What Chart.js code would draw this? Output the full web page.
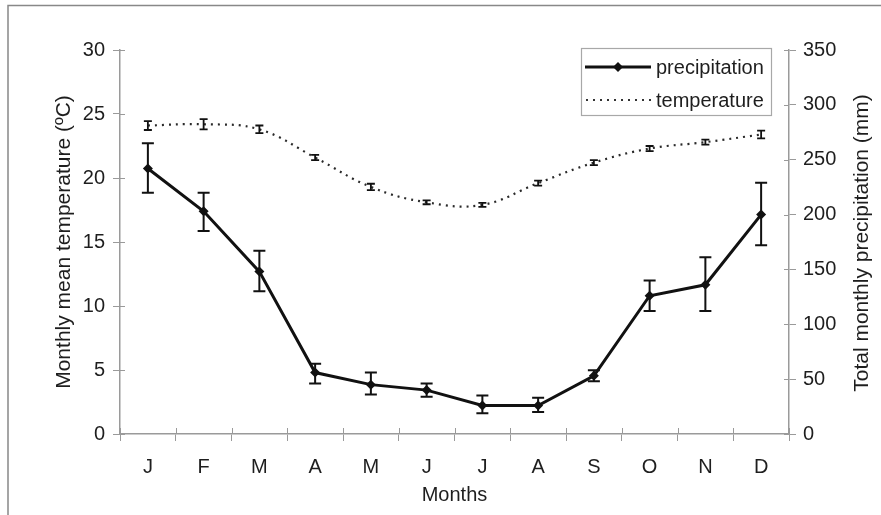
<!DOCTYPE html>
<html>
<head>
<meta charset="utf-8">
<script src="https://cdn.jsdelivr.net/npm/chart.js@4"></script>
<style>
  html, body { margin: 0; padding: 0; background: #fff; }
  #wrap { width: 881px; height: 515px; position: relative; }
</style>
</head>
<body>
<div id="wrap"><canvas id="c" width="881" height="515"></canvas></div>
<script>
// ---- data ----
const months = ['J', 'F', 'M', 'A', 'M', 'J', 'J', 'A', 'S', 'O', 'N', 'D'];
const precipitation = [242, 203, 148, 56, 45, 40, 26, 26, 53, 126, 136, 200];
const precipHigh    = [265, 220, 167, 64, 56, 46, 35, 33, 58, 140, 161, 229];
const precipLow     = [220, 185, 130, 46, 36, 34, 19, 20, 48, 112, 112, 172];
const temperature   = [24.1, 24.2, 23.8, 21.6, 19.3, 18.1, 17.9, 19.6, 21.2, 22.3, 22.8, 23.4];
const tempError     = [0.35, 0.4, 0.3, 0.2, 0.25, 0.15, 0.15, 0.2, 0.2, 0.2, 0.2, 0.3];
const tempTicks = [0, 5, 10, 15, 20, 25, 30];
const precipTicks = [0, 50, 100, 150, 200, 250, 300, 350];
const rightTitle = 'Total monthly precipitation (mm)';

const FONT = "'Liberation Sans', Arial, sans-serif";
const FS = 20;
const FS_V = 21;
const TXT = '#1e1e1e';
const AXIS = '#9a9a9a';

const tempHigh = temperature.map((v, i) => v + tempError[i]);
const tempLow = temperature.map((v, i) => v - tempError[i]);

const frame = {
  id: 'frame',
  beforeDraw(chart) {
    const ctx = chart.ctx;
    ctx.save();
    ctx.fillStyle = '#fff';
    ctx.fillRect(0, 0, chart.width, chart.height);
    ctx.strokeStyle = '#888';
    ctx.lineWidth = 1.5;
    ctx.beginPath();
    ctx.moveTo(8, chart.height);
    ctx.lineTo(8, 5.5);
    ctx.lineTo(chart.width, 5.5);
    ctx.stroke();
    ctx.restore();
  }
};

const innerTicks = {
  id: 'innerTicks',
  afterDraw(chart) {
    const ctx = chart.ctx;
    const ca = chart.chartArea;
    ctx.save();
    ctx.strokeStyle = AXIS;
    ctx.lineWidth = 1;
    ctx.beginPath();
    const x = chart.scales.x;
    for (let k = 0; k <= months.length; k++) {
      const px = Math.round(x.getPixelForValue(k - 0.5)) + 0.5;
      ctx.moveTo(px, ca.bottom);
      ctx.lineTo(px, ca.bottom - 6);
    }
    const yl = chart.scales.yT;
    tempTicks.forEach(v => {
      const py = Math.round(yl.getPixelForValue(v)) + 0.5;
      ctx.moveTo(ca.left, py);
      ctx.lineTo(ca.left + 5, py);
    });
    const yr = chart.scales.yP;
    precipTicks.forEach(v => {
      const py = Math.round(yr.getPixelForValue(v)) + 0.5;
      ctx.moveTo(ca.right, py);
      ctx.lineTo(ca.right - 5, py);
    });
    ctx.stroke();
    // right axis title, reading bottom-to-top like the left one
    ctx.fillStyle = TXT;
    ctx.font = FS_V + 'px ' + FONT;
    ctx.textAlign = 'center';
    ctx.textBaseline = 'middle';
    ctx.translate(862, (ca.top + ca.bottom) / 2 + 1);
    ctx.rotate(-Math.PI / 2);
    ctx.fillText(rightTitle, 0, 0);
    ctx.restore();
  }
};

const errorBars = {
  id: 'errorBars',
  afterDatasetsDraw(chart) {
    const ctx = chart.ctx;
    const specs = [
      { ds: 0, axis: 'yP', hi: precipHigh, lo: precipLow, cap: 6, lw: 2 },
      { ds: 1, axis: 'yT', hi: tempHigh, lo: tempLow, cap: 4, lw: 1.8 }
    ];
    ctx.save();
    ctx.strokeStyle = '#111';
    specs.forEach(s => {
      const meta = chart.getDatasetMeta(s.ds);
      const sc = chart.scales[s.axis];
      ctx.lineWidth = s.lw;
      meta.data.forEach((pt, i) => {
        const x = pt.x;
        const yH = sc.getPixelForValue(s.hi[i]);
        const yL = sc.getPixelForValue(s.lo[i]);
        ctx.beginPath();
        ctx.moveTo(x, yH); ctx.lineTo(x, yL);
        ctx.moveTo(x - s.cap, yH); ctx.lineTo(x + s.cap, yH);
        ctx.moveTo(x - s.cap, yL); ctx.lineTo(x + s.cap, yL);
        ctx.stroke();
      });
    });
    ctx.restore();
  }
};

const boxLegend = {
  id: 'boxLegend',
  afterDraw(chart) {
    const ctx = chart.ctx;
    const x0 = 581, y0 = 48, w = 190, h = 67;
    ctx.save();
    ctx.fillStyle = '#fff';
    ctx.fillRect(x0, y0, w, h);
    ctx.strokeStyle = '#a8a8a8';
    ctx.lineWidth = 1.2;
    ctx.strokeRect(x0 + 0.5, y0 + 0.5, w, h);
    const ds = chart.data.datasets;
    ctx.strokeStyle = '#111';
    ctx.lineWidth = 3;
    ctx.beginPath();
    ctx.moveTo(585, 67); ctx.lineTo(651, 67);
    ctx.stroke();
    ctx.fillStyle = '#111';
    ctx.beginPath();
    ctx.moveTo(618, 62); ctx.lineTo(623, 67); ctx.lineTo(618, 72); ctx.lineTo(613, 67);
    ctx.closePath(); ctx.fill();
    ctx.lineWidth = 2;
    ctx.strokeStyle = '#333';
    ctx.setLineDash([2, 5]);
    ctx.beginPath();
    ctx.moveTo(586, 100); ctx.lineTo(651, 100);
    ctx.stroke();
    ctx.setLineDash([]);
    ctx.fillStyle = TXT;
    ctx.font = FS + 'px ' + FONT;
    ctx.textBaseline = 'middle';
    ctx.fillText(ds[0].label, 656, 68);
    ctx.fillText(ds[1].label, 656, 101);
    ctx.restore();
  }
};

new Chart(document.getElementById('c'), {
  type: 'line',
  data: {
    labels: months,
    datasets: [
      {
        label: 'precipitation',
        data: precipitation,
        yAxisID: 'yP',
        borderColor: '#111',
        backgroundColor: '#111',
        borderWidth: 3,
        pointStyle: 'rectRot',
        pointRadius: 5,
        pointBorderWidth: 0,
        tension: 0
      },
      {
        label: 'temperature',
        data: temperature,
        yAxisID: 'yT',
        borderColor: '#2a2a2a',
        borderWidth: 2.2,
        borderDash: [2, 5],
        pointRadius: 0,
        tension: 0.4
      }
    ]
  },
  options: {
    responsive: false,
    animation: false,
    layout: { padding: { left: 44, right: 8, top: 50, bottom: 8 } },
    plugins: { legend: { display: false }, tooltip: { enabled: false } },
    scales: {
      x: {
        offset: true,
        grid: { offset: true, drawOnChartArea: false, tickLength: 7, color: AXIS },
        border: { color: AXIS, width: 1.5 },
        ticks: { color: TXT, font: { family: FONT, size: FS }, padding: 14 },
        title: { display: true, text: 'Months', color: TXT, font: { family: FONT, size: FS }, padding: { top: 2, bottom: 0 } },
        afterFit(s) { s.height = 73; }
      },
      yT: {
        position: 'left',
        min: 0, max: 30,
        afterBuildTicks(s) { s.ticks = tempTicks.map(v => ({ value: v })); },
        grid: { drawOnChartArea: false, tickLength: 7, color: AXIS },
        border: { color: AXIS, width: 1.5 },
        ticks: { color: TXT, font: { family: FONT, size: FS }, padding: 8 },
        title: { display: true, text: 'Monthly mean temperature (ºC)', color: TXT, font: { family: FONT, size: FS_V }, padding: { top: 8, bottom: 2 } },
        afterFit(s) { s.width = 76; }
      },
      yP: {
        position: 'right',
        min: 0, max: 350,
        afterBuildTicks(s) { s.ticks = precipTicks.map(v => ({ value: v })); },
        grid: { drawOnChartArea: false, tickLength: 7, color: AXIS },
        border: { color: AXIS, width: 1.5 },
        ticks: { color: TXT, font: { family: FONT, size: FS }, padding: 7 },
        title: { display: false },
        afterFit(s) { s.width = 84; }
      }
    }
  },
  plugins: [frame, innerTicks, errorBars, boxLegend]
});
</script>
</body>
</html>
